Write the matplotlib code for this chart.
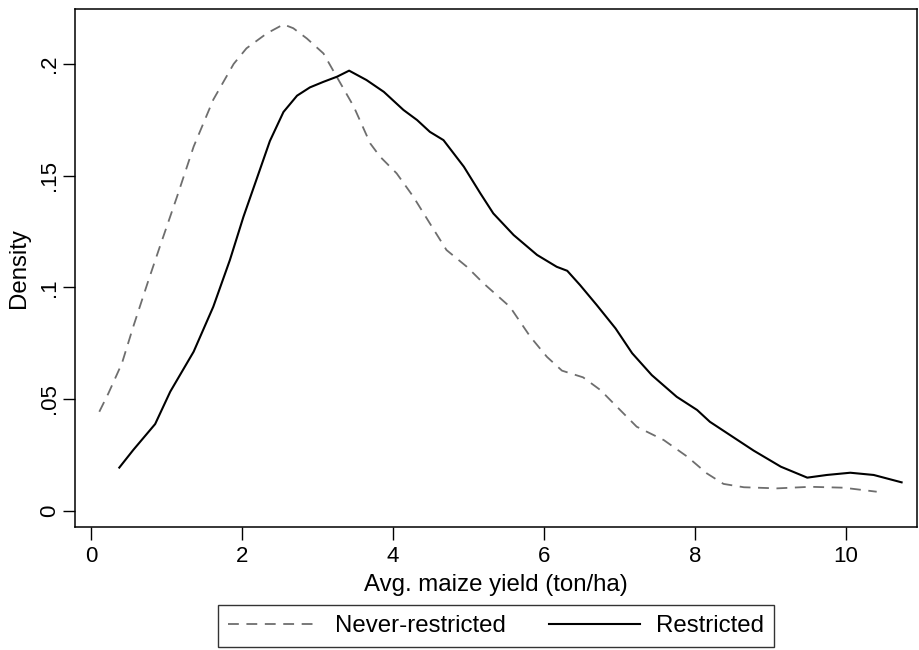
import matplotlib
matplotlib.use("Agg")
import matplotlib.pyplot as plt

plt.rcParams['font.family'] = ['Liberation Sans', 'DejaVu Sans']

# Never-restricted kernel density
never_x = [0.11, 0.23, 0.41, 0.56, 0.76, 0.91, 1.14, 1.36, 1.62, 1.89, 2.06, 2.33, 2.55,
           2.68, 2.86, 3.08, 3.26, 3.48, 3.70, 3.83, 4.05, 4.27, 4.49, 4.71, 4.98, 5.20,
           5.55, 5.82, 6.04, 6.24, 6.52, 6.75, 7.01, 7.23, 7.59, 7.90, 8.16, 8.38, 8.65,
           9.09, 9.53, 9.97, 10.41]
never_y = [0.0443, 0.0525, 0.066, 0.0824, 0.103, 0.118, 0.1406, 0.163, 0.184, 0.200, 0.207,
           0.2137, 0.2177, 0.216, 0.2114, 0.2047, 0.194, 0.181, 0.1644, 0.1585, 0.151,
           0.1406, 0.1286, 0.1167, 0.1092, 0.1018, 0.0913, 0.0779, 0.0689, 0.0627, 0.0597,
           0.054, 0.0451, 0.0376, 0.0316, 0.0242, 0.0167, 0.012, 0.0105, 0.0100, 0.0107,
           0.0103, 0.0085]

# Restricted kernel density
restr_x = [0.375, 0.56, 0.85, 1.05, 1.36, 1.62, 1.84, 2.02, 2.20, 2.37, 2.55, 2.73, 2.90,
           3.08, 3.26, 3.42, 3.65, 3.88, 4.14, 4.32, 4.49, 4.67, 4.94, 5.16, 5.33, 5.60,
           5.91, 6.17, 6.31, 6.48, 6.70, 6.95, 7.17, 7.43, 7.76, 8.03, 8.20, 8.60, 8.78,
           9.14, 9.49, 9.75, 10.06, 10.37, 10.74]
restr_y = [0.0193, 0.0272, 0.0388, 0.0533, 0.0712, 0.0913, 0.1122, 0.1316, 0.149, 0.1655,
           0.1785, 0.1858, 0.1895, 0.192, 0.1943, 0.197, 0.1928, 0.1875, 0.1794, 0.1749,
           0.1696, 0.1659, 0.154, 0.142, 0.1331, 0.1234, 0.1145, 0.1092, 0.1074, 0.101,
           0.0921, 0.0816, 0.0705, 0.0607, 0.051, 0.0451, 0.0398, 0.0309, 0.0269, 0.0197,
           0.0148, 0.016, 0.017, 0.016, 0.0127]

x_ticks = [0, 2, 4, 6, 8, 10]
y_ticks = [0, 0.05, 0.1, 0.15, 0.2]
y_tick_labels = ['0', '.05', '.1', '.15', '.2']

W, H = 920, 650
fig = plt.figure(figsize=(W / 100, H / 100), dpi=100)
left, right, top, bottom = 75, 916.7, 9, 526.7
ax = fig.add_axes([left / W, 1 - bottom / H, (right - left) / W, (bottom - top) / H])

l1, = ax.plot(never_x, never_y, color='#6e6e6e', lw=1.3, dashes=(6, 4.2),
              label='Never-restricted')
l2, = ax.plot(restr_x, restr_y, color='black', lw=1.5, label='Restricted')

ax.set_xlim(-0.212, 10.94)
ax.set_ylim(-0.00716, 0.2246)
ax.set_xticks(x_ticks)
ax.set_xticklabels([str(t) for t in x_ticks])
ax.set_yticks(y_ticks)
ax.set_yticklabels(y_tick_labels, rotation=90, va='center')

ax.tick_params(axis='both', direction='out', length=9, width=1.0, labelsize=16,
               color='black', labelcolor='black')
ax.tick_params(axis='x', pad=5)
ax.tick_params(axis='y', pad=2)
for s in ax.spines.values():
    s.set_color('black')
    s.set_linewidth(1.1)

ax.set_xlabel('Avg. maize yield (ton/ha)', fontsize=17.3, labelpad=5)
ax.set_ylabel('Density', fontsize=17.3, labelpad=6)

leg = fig.legend(handles=[l1, l2], loc='upper center',
                 bbox_to_anchor=(496 / W, 1 - 605 / H), ncol=2, frameon=True,
                 fancybox=False, edgecolor='black', fontsize=17.3, handlelength=3.75,
                 handletextpad=0.7, columnspacing=1.83, borderpad=0.42, borderaxespad=0)
leg.get_frame().set_linewidth(1.0)

fig.savefig('out.png', dpi=100, facecolor='white')
